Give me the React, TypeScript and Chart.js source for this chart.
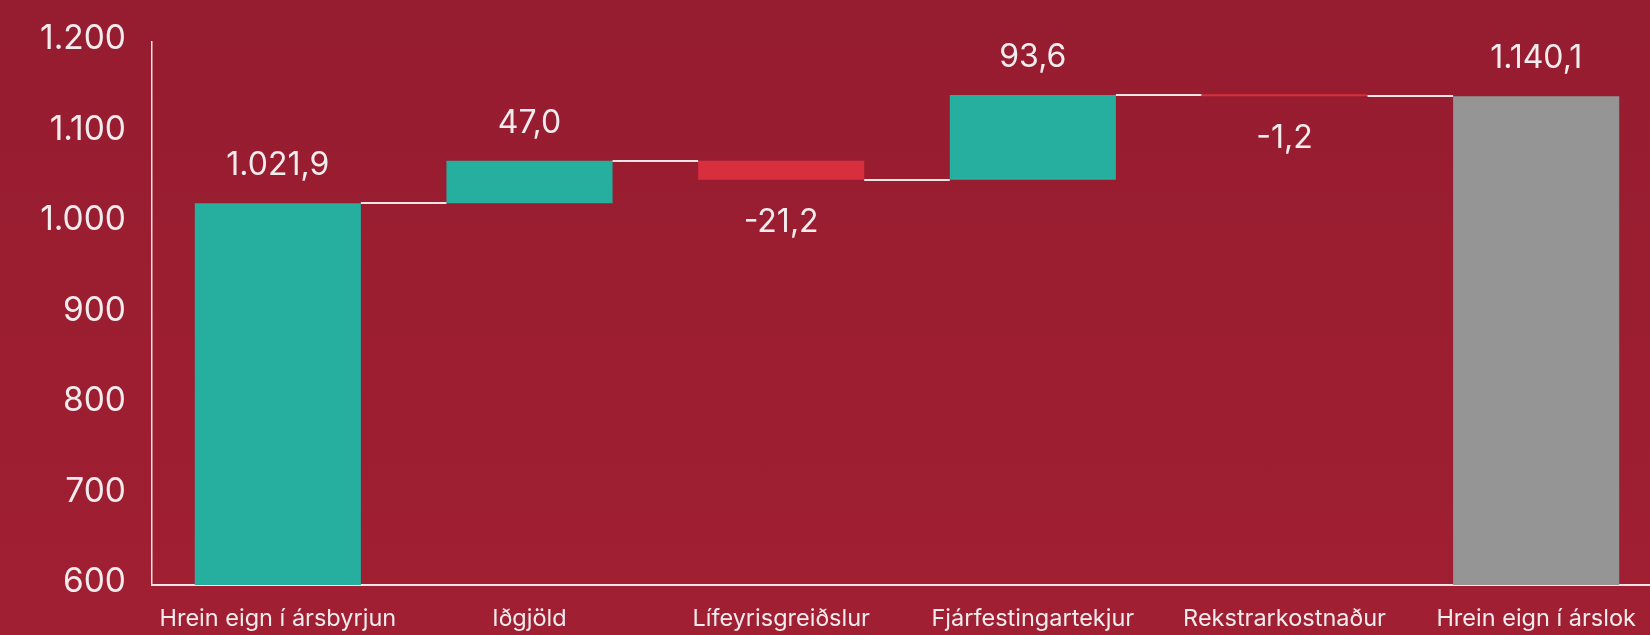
import React, { useEffect, useRef } from 'react';
import { Chart, registerables } from 'chart.js';

Chart.register(...registerables);

const categories = [
  'Hrein eign í ársbyrjun',
  'Iðgjöld',
  'Lífeyrisgreiðslur',
  'Fjárfestingartekjur',
  'Rekstrarkostnaður',
  'Hrein eign í árslok',
];
const values = [1021.9, 47.0, -21.2, 93.6, -1.2, 1140.1];
const isTotal = [true, false, false, false, false, true];
const yMin = 600;
const yMax = 1200;
const yStep = 100;

const TEAL = '#26ae9e';
const RED = '#d72f3e';
const GRAY = '#959595';
const TEXT = '#f3ecee';
const LINE = '#f0e4e6';
const FONT = 'Inter';

function fmt(v: number, dec: number): string {
  const neg = v < 0;
  const s = Math.abs(v).toFixed(dec);
  const [i, d] = s.split('.');
  const ii = i.replace(/\B(?=(\d{3})+(?!\d))/g, '.');
  return (neg ? '-' : '') + ii + (d ? ',' + d : '');
}

// running totals and floating ranges
const ranges: [number, number][] = [];
const levels: number[] = [];
{
  let run = 0;
  values.forEach((v, i) => {
    if (isTotal[i]) {
      ranges.push([yMin, v]);
      run = v;
    } else {
      ranges.push([run, run + v]);
      run = run + v;
    }
    levels.push(run);
  });
}
const colors = values.map((v, i) => (isTotal[i] ? (i === 0 ? TEAL : GRAY) : v >= 0 ? TEAL : RED));

const waterfallPlugin = {
  id: 'waterfall',
  afterDatasetsDraw(chart: any) {
    const meta = chart.getDatasetMeta(0);
    const y = chart.scales.y;
    const ctx = chart.ctx;
    ctx.save();
    ctx.strokeStyle = LINE;
    ctx.lineWidth = 2;
    for (let i = 0; i < meta.data.length - 1; i++) {
      const a = meta.data[i];
      const b = meta.data[i + 1];
      const py = Math.round(y.getPixelForValue(levels[i]));
      ctx.beginPath();
      ctx.moveTo(a.x + a.width / 2, py);
      ctx.lineTo(b.x - b.width / 2, py);
      ctx.stroke();
    }
    ctx.fillStyle = TEXT;
    ctx.font = `32px ${FONT}`;
    ctx.textAlign = 'center';
    ctx.textBaseline = 'alphabetic';
    meta.data.forEach((bar: any, i: number) => {
      const [s, e] = ranges[i];
      const top = y.getPixelForValue(Math.max(s, e));
      const bottom = y.getPixelForValue(Math.min(s, e));
      const txt = fmt(values[i], 1);
      if (values[i] >= 0) {
        ctx.fillText(txt, bar.x, top - 28);
      } else {
        ctx.fillText(txt, bar.x, bottom + 52);
      }
    });
    ctx.restore();
  },
};

export default function App() {
  const ref = useRef<HTMLCanvasElement | null>(null);
  useEffect(() => {
    document.body.style.margin = '0';
    const chart = new Chart(ref.current as HTMLCanvasElement, {
      type: 'bar',
      data: {
        labels: categories,
        datasets: [
          {
            data: ranges as any,
            backgroundColor: colors,
            borderWidth: 0,
            barPercentage: 0.66,
            categoryPercentage: 1,
            minBarLength: 2,
          },
        ],
      },
      options: {
        responsive: false,
        animation: false,
        devicePixelRatio: 1,
        layout: { padding: { top: 42, left: 0, right: 0, bottom: 0 } },
        plugins: { legend: { display: false }, tooltip: { enabled: false } },
        scales: {
          x: {
            grid: { display: false, drawTicks: false },
            border: { display: true, color: LINE, width: 2 },
            ticks: { color: TEXT, font: { family: FONT, size: 23.5 }, padding: 20, maxRotation: 0, autoSkip: false },
            afterFit: (s: any) => {
              s.height = 50;
            },
          },
          y: {
            min: yMin,
            max: yMax,
            grid: { display: false, drawTicks: false },
            border: { display: true, color: LINE, width: 1.5 },
            ticks: {
              stepSize: yStep,
              color: TEXT,
              font: { family: FONT, size: 33.5 },
              padding: 26,
              labelOffset: -3,
              callback: (v: any) => fmt(Number(v), 0),
            },
            afterFit: (s: any) => {
              s.width = 152;
              s.paddingTop = 0;
              s.paddingBottom = 0;
            },
          },
        },
      },
      plugins: [waterfallPlugin],
    });
    return () => chart.destroy();
  }, []);
  return (
    <div
      style={{
        width: 1650,
        height: 635,
        overflow: 'hidden',
        position: 'relative',
        background: 'linear-gradient(#961c2f, #a11f32)',
      }}
    >
      <canvas ref={ref} width={1662} height={635} style={{ display: 'block' }} />
    </div>
  );
}
